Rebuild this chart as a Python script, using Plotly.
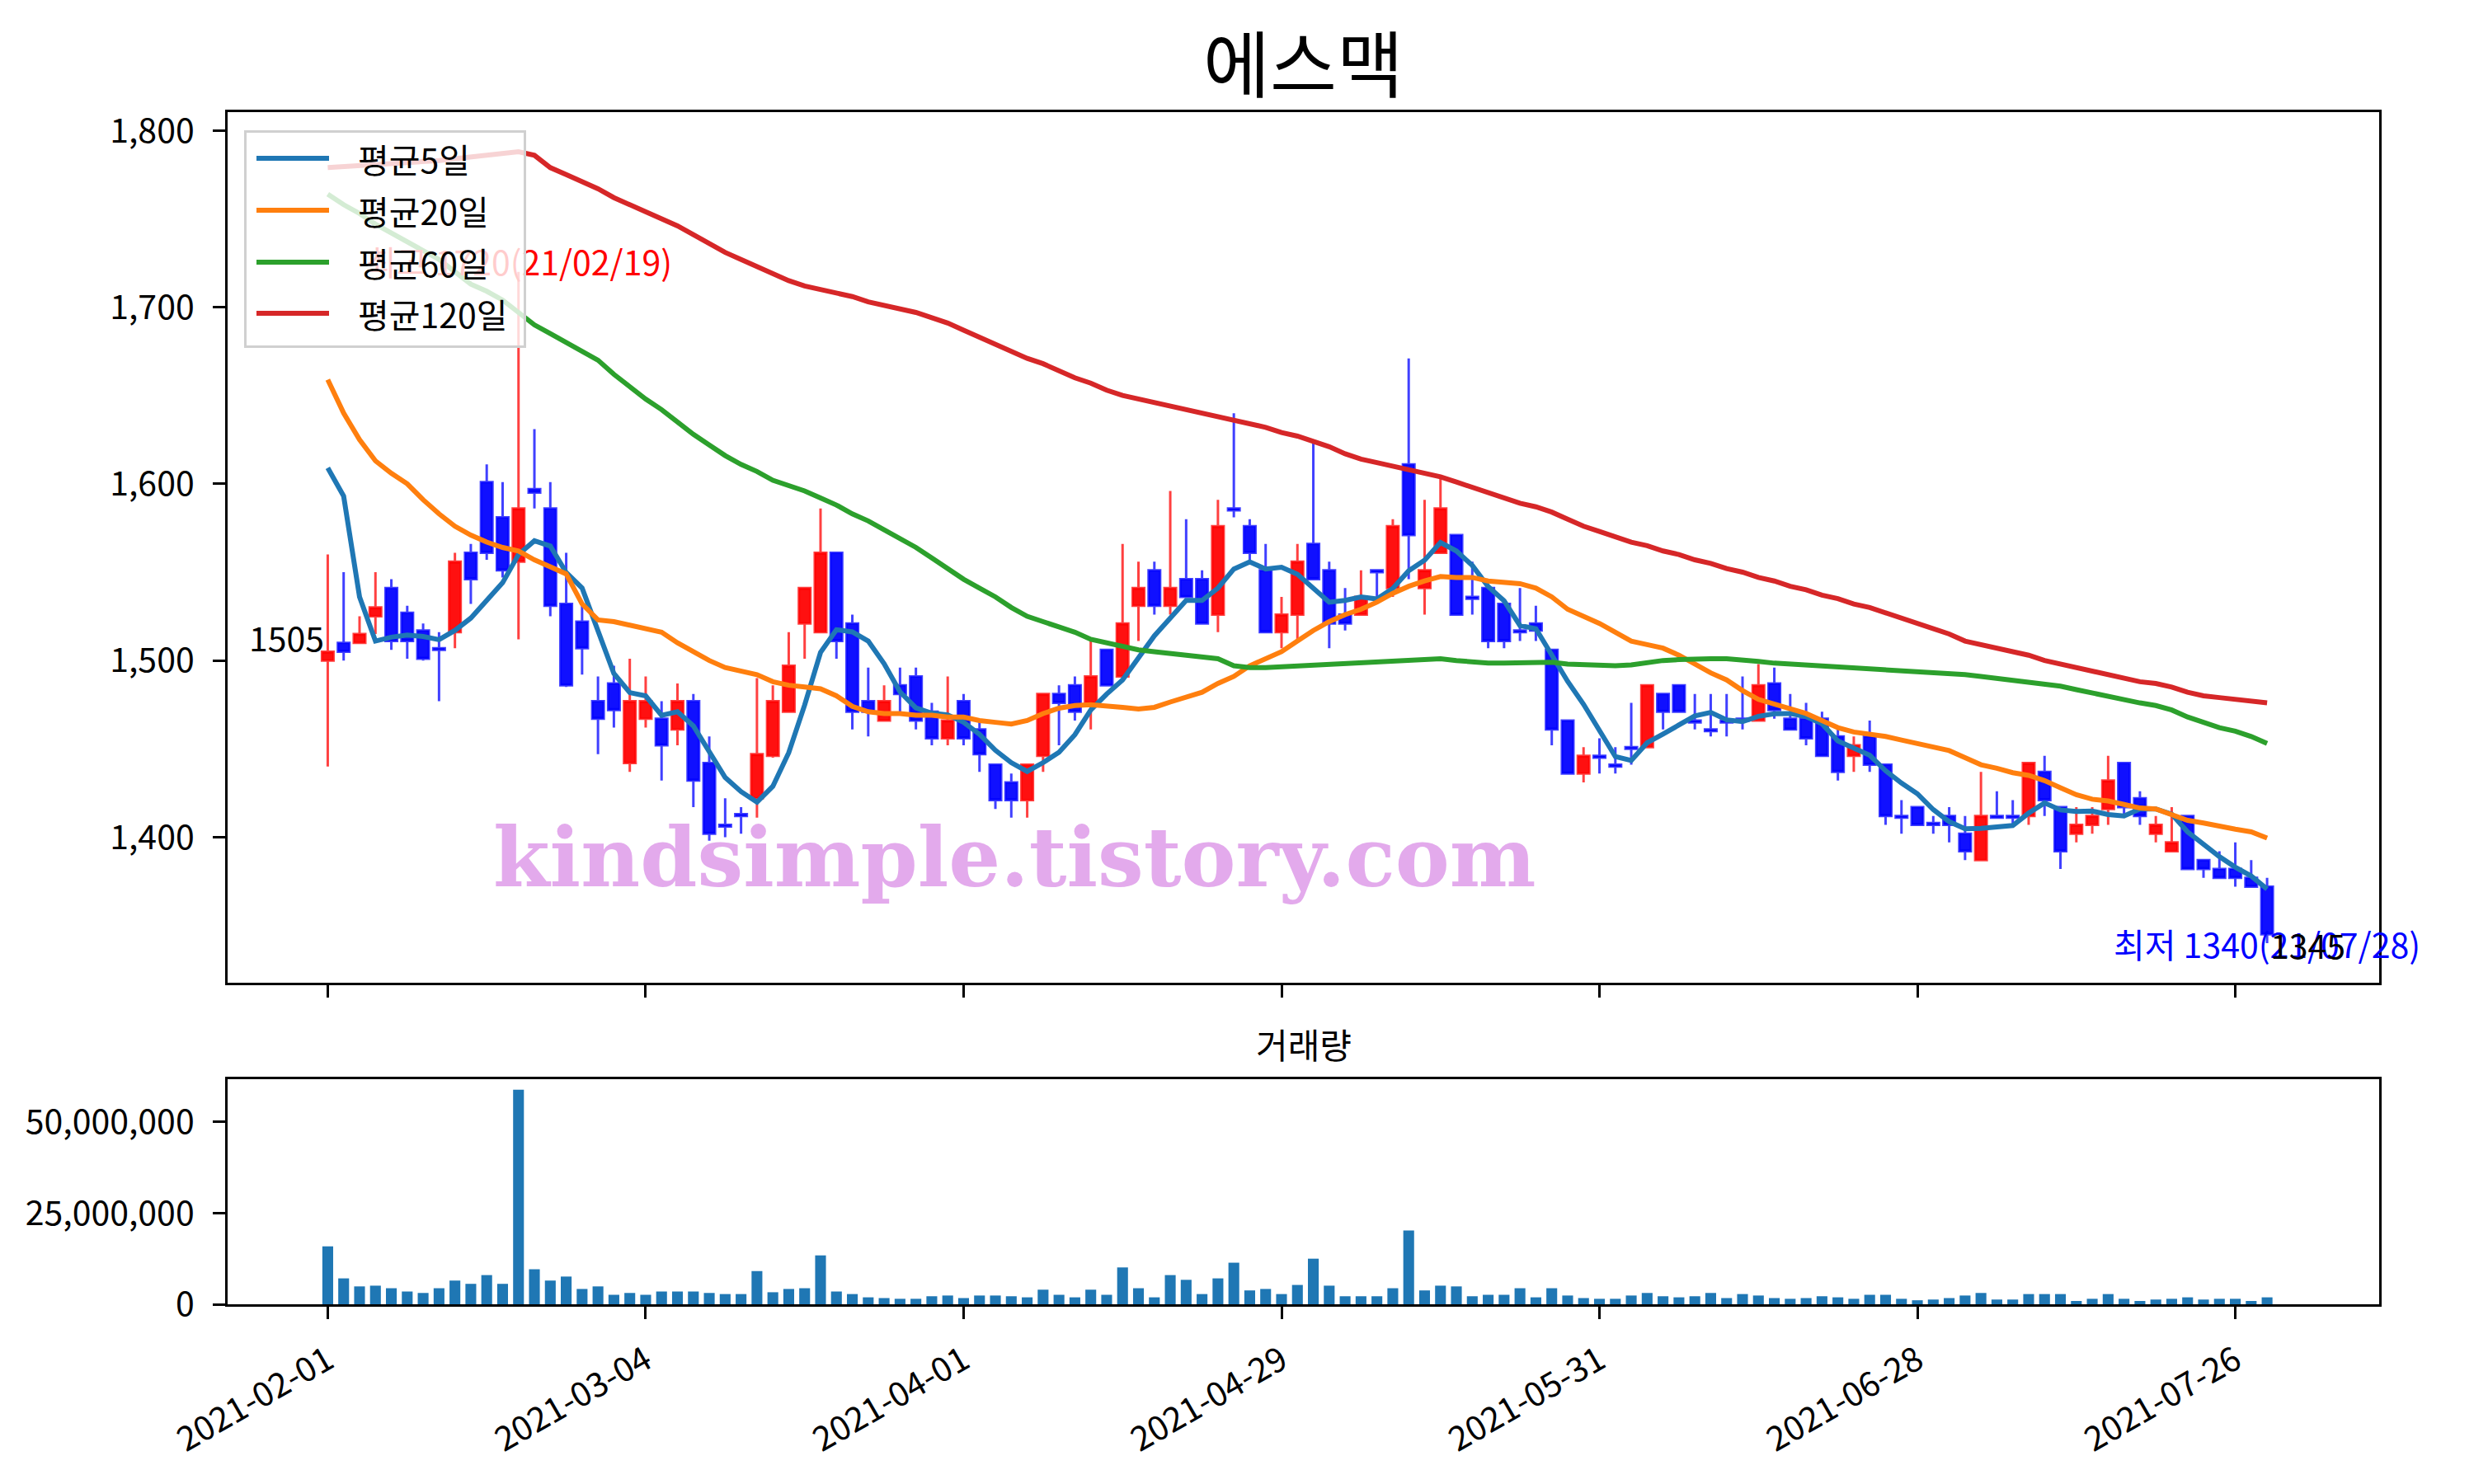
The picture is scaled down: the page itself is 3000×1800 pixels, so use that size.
import pandas as pd
import plotly.graph_objects as go


# 에스맥 일봉 (2021-02-01 ~ 2021-07-28), x = 거래일 순번
open_ = [1500, 1510, 1510, 1525, 1541, 1527, 1517, 1507, 1516, 1561,
         1601, 1581, 1556, 1597, 1586, 1532, 1522, 1477, 1487, 1442,
         1467, 1467, 1461, 1477, 1442, 1407, 1413, 1422, 1446, 1471,
         1521, 1516, 1561, 1521, 1477, 1466, 1486, 1491, 1471, 1456,
         1477, 1461, 1441, 1431, 1421, 1446, 1481, 1486, 1476, 1506,
         1491, 1531, 1551, 1531, 1546, 1546, 1526, 1586, 1576, 1551,
         1516, 1526, 1566, 1551, 1526, 1526, 1551, 1541, 1611, 1541,
         1561, 1571, 1536, 1541, 1532, 1517, 1521, 1506, 1466, 1436,
         1446, 1441, 1451, 1451, 1481, 1486, 1466, 1461, 1466, 1467,
         1466, 1487, 1467, 1467, 1467, 1457, 1446, 1457, 1441, 1412,
         1417, 1408, 1412, 1402, 1387, 1412, 1412, 1412, 1437, 1417,
         1402, 1407, 1416, 1442, 1422, 1402, 1392, 1412, 1387, 1382,
         1382, 1377, 1372]
high = [1560, 1550, 1525, 1550, 1546, 1531, 1521, 1516, 1561, 1566,
        1611, 1601, 1720, 1631, 1601, 1561, 1531, 1491, 1497, 1501,
        1491, 1477, 1487, 1481, 1457, 1422, 1417, 1490, 1486, 1516,
        1541, 1586, 1561, 1526, 1496, 1486, 1496, 1496, 1476, 1491,
        1481, 1466, 1441, 1436, 1441, 1481, 1486, 1491, 1511, 1506,
        1566, 1556, 1556, 1596, 1580, 1551, 1591, 1640, 1580, 1566,
        1536, 1566, 1624, 1556, 1541, 1551, 1551, 1580, 1671, 1591,
        1604, 1571, 1556, 1541, 1532, 1541, 1531, 1506, 1466, 1451,
        1456, 1451, 1476, 1486, 1481, 1486, 1481, 1481, 1481, 1491,
        1498, 1496, 1481, 1476, 1471, 1461, 1457, 1466, 1441, 1421,
        1417, 1412, 1417, 1412, 1437, 1426, 1421, 1442, 1446, 1417,
        1417, 1417, 1446, 1442, 1426, 1412, 1417, 1412, 1387, 1392,
        1397, 1387, 1377]
low = [1440, 1500, 1510, 1515, 1506, 1501, 1500, 1477, 1507, 1532,
       1557, 1547, 1512, 1586, 1525, 1485, 1492, 1447, 1462, 1437,
       1462, 1432, 1452, 1417, 1398, 1400, 1402, 1411, 1445, 1471,
       1501, 1516, 1501, 1461, 1457, 1466, 1471, 1461, 1452, 1452,
       1452, 1437, 1416, 1411, 1411, 1437, 1452, 1466, 1461, 1486,
       1491, 1511, 1526, 1526, 1536, 1521, 1516, 1581, 1556, 1516,
       1507, 1511, 1546, 1507, 1517, 1526, 1536, 1536, 1546, 1526,
       1561, 1526, 1526, 1507, 1507, 1511, 1511, 1452, 1436, 1431,
       1436, 1436, 1441, 1451, 1461, 1471, 1461, 1457, 1457, 1461,
       1466, 1467, 1461, 1452, 1446, 1432, 1437, 1437, 1407, 1402,
       1407, 1402, 1397, 1387, 1387, 1411, 1407, 1407, 1412, 1382,
       1397, 1402, 1407, 1412, 1407, 1397, 1392, 1382, 1377, 1377,
       1372, 1372, 1340]
close = [1505, 1505, 1515, 1530, 1511, 1511, 1501, 1506, 1556, 1546,
         1561, 1551, 1586, 1595, 1531, 1486, 1507, 1467, 1472, 1477,
         1477, 1452, 1477, 1432, 1402, 1406, 1412, 1447, 1477, 1497,
         1541, 1561, 1511, 1471, 1471, 1477, 1481, 1466, 1456, 1466,
         1456, 1447, 1421, 1421, 1441, 1481, 1476, 1471, 1491, 1486,
         1521, 1541, 1531, 1541, 1536, 1521, 1576, 1585, 1561, 1516,
         1526, 1556, 1546, 1521, 1521, 1536, 1550, 1576, 1571, 1551,
         1586, 1526, 1535, 1511, 1511, 1516, 1517, 1461, 1436, 1446,
         1445, 1440, 1450, 1486, 1471, 1471, 1465, 1460, 1465, 1466,
         1486, 1472, 1461, 1456, 1446, 1437, 1452, 1441, 1412, 1411,
         1407, 1407, 1407, 1392, 1412, 1411, 1411, 1442, 1421, 1392,
         1407, 1412, 1432, 1417, 1412, 1407, 1397, 1382, 1382, 1377,
         1377, 1372, 1345]
volume = [15900000, 7100000, 4900000, 5100000, 4400000, 3500000, 3100000, 4400000, 6500000, 5600000,
          8000000, 5600000, 58800000, 9600000, 6500000, 7600000, 4200000, 4900000, 2600000, 3100000,
          2600000, 3500000, 3500000, 3500000, 3100000, 2800000, 2800000, 9100000, 3300000, 4200000,
          4400000, 13400000, 3500000, 2800000, 1900000, 1700000, 1500000, 1500000, 2200000, 2400000,
          1700000, 2400000, 2400000, 2200000, 1900000, 4000000, 2600000, 1900000, 4000000, 2600000,
          10100000, 4400000, 1900000, 8000000, 6700000, 2800000, 7100000, 11400000, 3800000, 4200000,
          2800000, 5300000, 12500000, 5100000, 2200000, 2200000, 2200000, 4400000, 20200000, 3800000,
          5100000, 4900000, 2200000, 2600000, 2600000, 4400000, 1900000, 4400000, 2400000, 1700000,
          1500000, 1500000, 2400000, 3100000, 2200000, 1900000, 2200000, 3100000, 1700000, 2800000,
          2400000, 1700000, 1500000, 1700000, 2200000, 1900000, 1500000, 2600000, 2600000, 1500000,
          1100000, 1300000, 1700000, 2400000, 3100000, 1300000, 1300000, 2800000, 2800000, 2800000,
          900000, 1500000, 2800000, 1500000, 900000, 1300000, 1500000, 1900000, 1300000, 1500000,
          1500000, 900000, 1900000]

# 이동평균 (앞부분은 조회 이전 데이터 포함이라 그림에서 읽은 값)
ma5_head = [1609, 1593, 1536, 1511]
ma20 = [1659, 1640, 1625, 1613, 1606, 1600, 1591, 1583, 1576, 1571,
        1567, 1564, 1562, 1557, 1553, 1549, 1532, 1523, 1522, 1520,
        1518, 1516, 1510, 1505, 1500, 1496, 1494, 1492, 1488, 1486,
        1485, 1484, 1480, 1474, 1471, 1470, 1470, 1469, 1469, 1468,
        1468, 1466, 1465, 1464, 1466, 1470, 1473, 1474.5, 1475, 1474.5,
        1473.5, 1472.5, 1473.5, 1476.5, 1479.5, 1482, 1487, 1491, 1497, 1501,
        1505, 1511, 1517, 1522, 1526, 1529, 1533, 1538, 1542, 1545,
        1547.5, 1547, 1547, 1545, 1544, 1543.5, 1541, 1536, 1529, 1525,
        1521, 1516, 1511, 1509, 1507, 1503, 1498, 1493, 1489, 1483,
        1478, 1475.5, 1472.5, 1470, 1466, 1462, 1459.5, 1458.5, 1457, 1455,
        1453, 1451.5, 1449, 1445, 1441, 1439, 1436.5, 1435, 1432, 1428,
        1424, 1421.5, 1420.5, 1418.5, 1416.5, 1416, 1413, 1409.5, 1408, 1406,
        1404.5, 1403, 1399.5]
ma60 = [1764, 1758, 1753, 1747, 1742, 1737, 1732, 1727, 1720, 1713,
        1709, 1704, 1697, 1690, 1685, 1680, 1675, 1670, 1662, 1655,
        1648, 1642, 1635, 1628, 1622, 1616, 1611, 1607, 1602, 1599,
        1596, 1592, 1588, 1583, 1579, 1574, 1569, 1564, 1558, 1552,
        1546, 1541, 1536, 1530, 1525, 1522, 1519, 1516, 1512, 1510,
        1508, 1506, 1505, 1504, 1503, 1502, 1501, 1497, 1496, 1496,
        1496.5, 1497, 1497.5, 1498, 1498.5, 1499, 1499.5, 1500, 1500.5, 1501,
        1501, 1500, 1499, 1498.5, 1498.5, 1498.5, 1499, 1499, 1498, 1497.5,
        1497, 1497, 1497.5, 1499, 1500, 1500.5, 1501, 1501, 1501, 1500.5,
        1499.5, 1498.5, 1498, 1497.5, 1497, 1496.5, 1496, 1495.5, 1495, 1494,
        1493.5, 1493, 1492.5, 1492, 1491, 1490, 1489, 1488, 1487, 1485.5,
        1483.5, 1481.5, 1480, 1478, 1476, 1474.5, 1472, 1468, 1465, 1462,
        1460, 1457, 1453]
ma120 = [1779, 1779.5, 1780, 1780.5, 1781, 1781.5, 1782, 1783, 1784, 1785,
         1786, 1787, 1788, 1786, 1779, 1775, 1771, 1767, 1762, 1758,
         1754, 1750, 1746, 1741, 1736, 1731, 1727, 1723, 1719, 1715,
         1712, 1710, 1708, 1706, 1703, 1701, 1699, 1697, 1694, 1691,
         1687, 1683, 1679, 1675, 1671, 1668, 1664, 1660, 1657, 1653,
         1650, 1648, 1646, 1644, 1642, 1640, 1638, 1636, 1634, 1632,
         1629, 1627, 1624, 1621, 1617, 1614, 1612, 1610, 1608, 1606,
         1604, 1601, 1598, 1595, 1592, 1589, 1587, 1584, 1580, 1576,
         1573, 1570, 1567, 1565, 1562, 1560, 1557, 1555, 1552, 1550,
         1547, 1545, 1542, 1540, 1537, 1535, 1532, 1530, 1527, 1524,
         1521, 1518, 1515, 1511, 1509, 1507, 1505, 1503, 1500, 1498,
         1496, 1494, 1492, 1490, 1488, 1487, 1485, 1482, 1480, 1479,
         1478, 1477, 1476]

tick_pos = [0, 20, 40, 60, 80, 100, 120]
tick_text = ["2021-02-01", "2021-03-04", "2021-04-01", "2021-04-29",
             "2021-05-31", "2021-06-28", "2021-07-26"]

FONT = "Noto Sans CJK KR"

# 그림 여백 (px) -> paper 좌표 변환용
W, H = 3000, 1800
ML, MR, MT, MB = 276, 115, 136, 218
PW, PH = W - ML - MR, H - MT - MB


def px_x(px):
    return (px - ML) / PW


def px_y(py):
    return (H - MB - py) / PH


x = list(range(len(close)))
ma5 = pd.Series(close).rolling(5).mean().tolist()
ma5[:4] = ma5_head

hi_i = high.index(max(high))
lo_i = low.index(min(low))

fig = go.Figure()

fig.add_trace(go.Candlestick(
    x=x, open=open_, high=high, low=low, close=close,
    increasing=dict(line=dict(color="rgba(255,0,0,0.75)", width=3), fillcolor="#ff1010"),
    decreasing=dict(line=dict(color="rgba(0,0,255,0.75)", width=3), fillcolor="#1010ff"),
    whiskerwidth=0, showlegend=False, hoverinfo="skip",
    xaxis="x", yaxis="y"))

ma_list = [("평균5일", "#1f77b4", ma5), ("평균20일", "#ff7f0e", ma20),
           ("평균60일", "#2ca02c", ma60), ("평균120일", "#d62728", ma120)]
for name, col, vals in ma_list:
    fig.add_trace(go.Scatter(x=x, y=vals, mode="lines", name=name,
                             line=dict(color=col, width=6), showlegend=False,
                             xaxis="x", yaxis="y"))

fig.add_trace(go.Bar(x=x, y=volume, width=0.68, marker=dict(color="#1f77b4", line=dict(width=0)),
                     showlegend=False, xaxis="x2", yaxis="y2"))

axis_common = dict(showline=True, mirror=True, linecolor="black", linewidth=3.3,
                   ticks="outside", ticklen=15, tickwidth=3.3, tickcolor="black",
                   showgrid=False, zeroline=False,
                   tickfont=dict(family=FONT, size=41, color="black"))

fig.update_layout(
    width=W, height=H,
    margin=dict(l=ML, r=MR, t=MT, b=MB),
    paper_bgcolor="white", plot_bgcolor="white",
    font=dict(family=FONT, size=41, color="black"),
    title=dict(text="에스맥", x=0.5, xref="paper", y=1 - 80 / H, yref="container",
               xanchor="center", yanchor="middle", font=dict(family=FONT, size=88, color="black")),
    boxgap=0.27, boxgroupgap=0,
    xaxis=dict(axis_common, domain=[0, 1], range=[-6.3, 129.05], anchor="y",
               tickvals=tick_pos, showticklabels=False, rangeslider=dict(visible=False)),
    yaxis=dict(axis_common, domain=[px_y(1192), 1], range=[1317.6, 1810.4], anchor="x",
               tickvals=[1400, 1500, 1600, 1700, 1800], tickformat=",d", ticklabelstandoff=14),
    xaxis2=dict(axis_common, domain=[0, 1], range=[-6.3, 129.05], anchor="y2", matches="x",
                tickvals=tick_pos, ticktext=tick_text, tickangle=-30, ticklabelstandoff=10),
    yaxis2=dict(axis_common, domain=[0, px_y(1309)], range=[0, 61.7e6], anchor="x2",
                tickvals=[0, 25000000, 50000000], tickformat=",d", ticklabelstandoff=14),
    showlegend=False,
)

# 가격 라벨
fig.add_annotation(x=0, y=close[0], xref="x", yref="y", text=f"{close[0]}",
                   showarrow=False, xanchor="right", yanchor="middle", yshift=18, xshift=-2,
                   font=dict(family=FONT, size=41, color="black"))
fig.add_annotation(x=hi_i, y=high[hi_i], xref="x", yref="y",
                   text=f"최고 {high[hi_i]}(21/02/19)", showarrow=False,
                   xanchor="center", yanchor="middle", yshift=14,
                   font=dict(family=FONT, size=41, color="red"))
fig.add_annotation(x=lo_i, y=low[lo_i], xref="x", yref="y",
                   text=f"최저 {low[lo_i]}(21/07/28)", showarrow=False,
                   xanchor="center", yanchor="middle",
                   font=dict(family=FONT, size=41, color="blue"))
fig.add_annotation(x=len(close) - 1, y=close[-1], xref="x", yref="y", text=f"{close[-1]}",
                   showarrow=False, xanchor="left", yanchor="middle", yshift=-12, xshift=2,
                   font=dict(family=FONT, size=41, color="black"))

# 범례 (최고가 라벨 위에 반투명하게 덮이도록 annotation으로 그림)
fig.add_annotation(x=px_x(467), y=px_y(290), xref="paper", yref="paper", text="&nbsp;",
                   showarrow=False, xanchor="center", yanchor="middle",
                   width=336, height=258, borderpad=0, borderwidth=3,
                   bgcolor="rgba(255,255,255,0.8)", bordercolor="#d0d0d0",
                   font=dict(size=4))
row_y = [192, 255, 318, 380]
for (name, col, _), ry in zip(ma_list, row_y):
    fig.add_annotation(x=px_x(355), y=px_y(ry), xref="paper", yref="paper", text="&nbsp;",
                       showarrow=False, xanchor="center", yanchor="middle",
                       width=88, height=6, borderpad=0, borderwidth=0, bgcolor=col,
                       font=dict(size=4))
    fig.add_annotation(x=px_x(432), y=px_y(ry), xref="paper", yref="paper", text=name,
                       showarrow=False, xanchor="left", yanchor="middle",
                       font=dict(family=FONT, size=41, color="black"))

fig.add_annotation(x=0.5, y=px_y(1265), xref="paper", yref="paper", text="거래량",
                   showarrow=False, xanchor="center", yanchor="middle",
                   font=dict(family=FONT, size=42, color="black"))
fig.add_annotation(x=px_x(1230), y=px_y(1040), xref="paper", yref="paper",
                   text="<b>kindsimple.tistory.com</b>",
                   showarrow=False, xanchor="center", yanchor="middle",
                   font=dict(family="DejaVu Serif", size=99, color="#e3aaec"))

fig.write_html("out.html", config={"displayModeBar": False},
               post_script="document.body.style.margin='0px';")
